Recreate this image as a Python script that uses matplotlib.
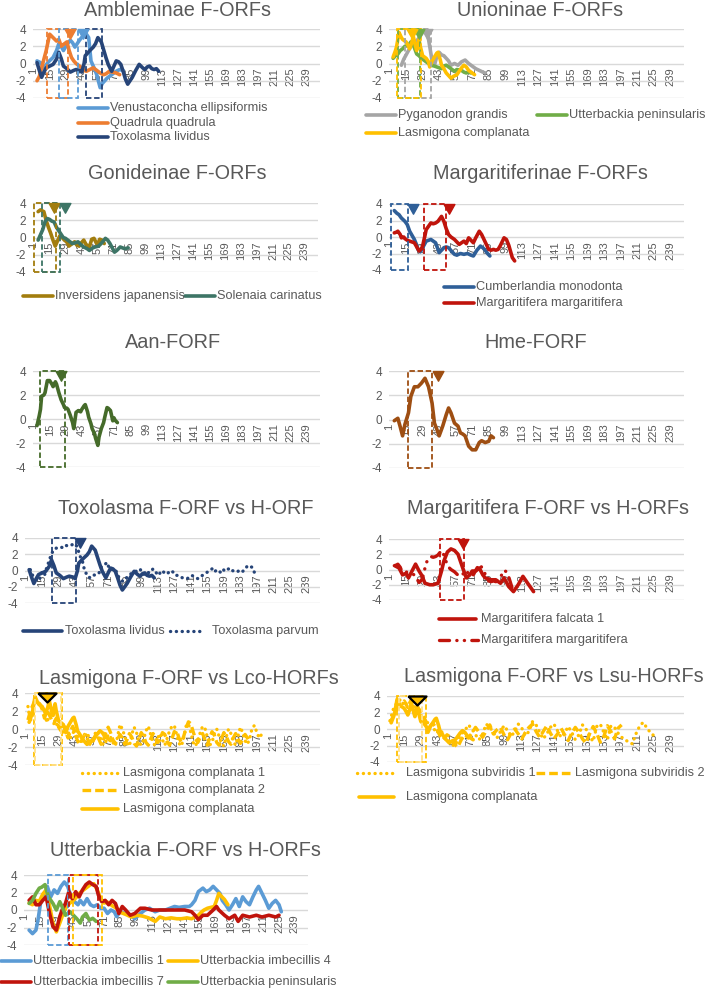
import matplotlib
matplotlib.use("Agg")
import matplotlib.pyplot as plt
from matplotlib.lines import Line2D
from matplotlib.patches import Rectangle

plt.rcParams["font.family"] = ["Liberation Sans", "DejaVu Sans"]
plt.rcParams["axes.unicode_minus"] = False

W, H = 708, 989
TXT = "#595959"
GRID = "#D9D9D9"

# ---------------- data (category position, value) ----------------
# Ambleminae
venu_x = [4, 7, 10, 14, 18, 21, 23, 25, 27, 30, 33, 35, 37, 39, 41, 44, 46, 49, 51, 54,
          56, 59, 61, 63, 65, 67, 70, 73, 76, 79]
venu_y = [0.3, 0.1, -0.5, 0.2, 0.7, 1.5, 2.3, 2.0, 1.5, 2.2, 2.7, 2.4, 1.9, 2.3, 2.7, 3.2, 3.6, 3.0, 0.3, -0.6,
          -1.3, -2.8, -2.3, -2.0, -1.7, -1.5, -1.2, -0.9, -0.7, -0.8]
quad_x = [4, 6, 8, 10, 12, 15, 18, 21, 23, 25, 27, 30, 32, 34, 36, 38, 41, 43, 45, 47,
          50, 53, 56, 59, 62, 64, 67, 70, 73, 76]
quad_y = [-2.0, -1.5, -0.5, 0.5, 1.5, 3.4, 3.0, 2.6, 2.8, 2.0, 2.2, 2.5, 1.5, 0.7, 0.3, 0.0, -0.3, -0.5, -0.8, -0.9,
          -0.7, -0.5, -0.8, -1.1, -1.3, -1.2, -0.9, -1.0, -1.1, -1.3]
tliv_x = [4, 6, 8, 10, 12, 15, 18, 21, 23, 25, 27, 30, 33, 36, 38, 41, 43, 45, 46, 48,
          50, 53, 55, 57, 60, 62, 64, 66, 69, 71, 73, 75, 77, 79, 81, 83, 85, 87, 90, 93,
          96, 98, 100, 102, 104, 106, 108, 110]
tliv_y = [0.1, -0.8, -1.6, -1.0, -0.5, -0.3, -0.1, 0.5, 1.3, 0.6, -0.3, -0.6, -1.0, -0.8, -0.7, -0.8, -1.0, 0.0, 0.9, 1.2,
          1.5, 1.9, 2.3, 3.0, 2.5, 1.6, 0.7, -0.1, -0.9, -0.3, 0.3, 0.2, -0.1, -0.9, -1.8, -2.4, -2.0, -1.6, -0.8, -0.1,
          -0.5, -0.7, -0.4, -0.3, -0.6, -0.7, -0.6, -0.9]

# Unioninae
pyg_x = [11, 13, 15, 17, 19, 21, 23, 25, 27, 29, 31, 33, 35, 37, 39, 41, 43, 45, 47, 49,
         51, 53, 56, 59, 62, 65, 68, 71, 74, 77, 80, 82]
pyg_y = [-0.2, 0.5, 1.0, 1.5, 2.0, 2.2, 2.5, 2.8, 3.2, 3.6, 3.9, 3.6, 2.0, 0.3, -0.2, 0.8, 1.3, 1.0, 0.9, 0.6,
         0.3, -0.2, 0.0, -0.2, 0.2, 0.4, 0.0, -0.3, -0.6, -0.8, -1.0, -1.1]
upen_x = [4, 6, 8, 10, 12, 14, 17, 19, 21, 24, 26, 28, 30, 32, 34, 36, 39, 41, 43, 45,
          47, 49, 51, 53, 56, 58, 60, 62, 64, 66, 68, 70]
upen_y = [0.6, 0.9, 1.1, 1.5, 1.7, 2.0, 2.1, 2.5, 2.2, 1.1, 0.9, 0.6, 0.4, 0.2, 0.0, -0.2, -0.3, -0.4, -0.5, -0.6,
          -0.3, -0.2, -0.4, -0.6, -0.9, -0.7, -0.75, -0.8, -1.0, -1.1, -1.0, -1.1]
lcom_x = [4, 6, 7, 9, 11, 12, 14, 15, 17, 18, 20, 21, 23, 24, 26, 27, 29, 31, 32, 34,
          35, 37, 39, 41, 42, 44, 45, 47, 49, 51, 53, 55, 58, 60, 62, 64, 66, 68, 70, 73]
lcom_y = [0.75, 1.5, 2.0, 3.6, 3.0, 2.8, 2.6, 2.5, 2.0, 1.7, 2.5, 3.2, 2.0, 1.5, 2.8, 2.0, 0.9, 0.7, 0.6, 0.2,
          -0.4, 0.3, 0.75, 1.2, 1.3, 0.4, -0.2, -0.6, -1.1, -1.4, -1.7, -1.5, -1.3, -0.9, -0.5, -0.2, -0.4, -0.8, -1.0, -1.3]

# Gonideinae
ijap_x = [5, 7, 10, 12, 14, 16, 18, 20, 22, 24, 26, 28, 30, 32, 35, 37, 39, 41, 43, 45,
          47, 50, 52, 54, 57, 59, 61, 63]
ijap_y = [3.0, 3.2, 3.0, 2.0, 1.2, 0.5, -0.3, -1.0, -0.4, 0.2, 0.0, -0.3, -0.5, -1.0, -0.7, -0.5, -0.9, -1.0, -0.6, -0.3,
          -0.8, -1.1, -0.2, -0.1, -0.9, -0.2, -0.3, -0.7]
scar_x = [5, 7, 9, 11, 13, 15, 17, 19, 21, 23, 25, 27, 29, 31, 33, 35, 38, 40, 43, 45,
          48, 50, 53, 55, 58, 61, 64, 66, 68, 70, 72, 74, 77, 79, 81, 84]
scar_y = [-0.3, 0.3, 0.9, 1.8, 2.2, 2.1, 1.9, 1.8, 1.2, 0.8, 0.4, 0.0, -0.1, -0.3, -0.5, -0.7, -0.6, -0.5, -0.9, -1.1,
          -1.3, -1.5, -1.2, -1.1, -1.0, -0.6, -0.1, -0.3, -0.7, -1.2, -1.7, -1.5, -1.1, -1.2, -1.3, -1.2]

# Margaritiferinae
cmon_x = [5, 7, 9, 11, 14, 16, 18, 20, 22, 24, 25, 27, 29, 32, 34, 36, 38, 40, 42, 43,
          45, 47, 49, 51, 54, 56, 58, 61, 64, 67, 70, 72, 75, 78, 80, 82, 84, 86]
cmon_y = [3.2, 2.9, 2.7, 2.3, 1.9, 1.5, 0.7, 0.2, -0.3, -1.0, -1.5, -1.8, -1.3, -0.5, -0.4, -0.3, -0.5, -0.7, -1.5, -1.9,
          -1.6, -1.3, -1.2, -1.3, -1.8, -2.1, -2.2, -2.0, -2.1, -2.0, -2.2, -2.3, -1.6, -1.1, -1.3, -1.6, -2.0, -2.3]
mmar_x = [5, 7, 8, 10, 11, 13, 14, 16, 18, 20, 22, 24, 26, 28, 29, 31, 32, 34, 36, 38,
          40, 42, 43, 45, 46, 47, 49, 51, 53, 56, 58, 60, 62, 64, 66, 68, 70, 72, 74, 77,
          79, 81, 83, 85, 87, 89, 91, 93, 95, 98, 100, 102, 103, 105, 107]
mmar_y = [0.5, 0.6, 0.7, 0.3, -0.1, 0.0, -0.2, -0.4, -0.5, -0.6, -0.7, -1.2, -1.7, -1.4, -1.1, 0.2, 0.9, 1.3, 1.7, 1.6,
          1.7, 1.9, 2.1, 2.5, 2.2, 1.9, 1.0, 0.3, 0.0, -0.3, -0.6, -0.9, -0.7, -0.5, -0.8, -0.1, -0.4, -0.7, -0.1, 0.7,
          0.3, -0.3, -0.9, -1.5, -1.6, -1.5, -1.6, -1.5, -1.0, -0.1, -0.3, -1.0, -1.5, -2.5, -2.9]

# Aan-FORF / Hme-FORF
aan_x = [4, 6, 7, 8, 10, 11, 13, 15, 17, 18, 20, 21, 23, 25, 27, 28, 30, 31, 33, 35,
         36, 38, 40, 42, 43, 45, 46, 48, 49, 51, 52, 54, 55, 57, 58, 60, 62, 63, 65, 66,
         68, 70, 71, 72, 74]
aan_y = [-0.55, 0.3, 0.8, 1.9, 2.0, 2.2, 3.2, 3.2, 2.9, 2.7, 3.1, 2.9, 2.2, 1.6, 1.2, 0.95, 0.9, 0.8, 0.3, -0.3,
         -0.8, 0.55, 0.7, 0.6, 0.8, 1.1, 1.2, 0.6, 0.15, -0.4, -0.8, -1.2, -1.6, -2.2, -1.5, -0.8, -0.3, 0.15, 0.95, 0.9,
         0.7, -0.15, 0.1, -0.1, -0.3]
hme_x = [5, 8, 10, 12, 14, 17, 19, 22, 25, 28, 31, 34, 37, 39, 41, 43, 46, 49, 51, 53,
         56, 59, 61, 63, 65, 68, 71, 74, 77, 79, 82, 85, 87, 89]
hme_y = [-0.1, 0.1, -0.6, -1.35, -0.4, 0.55, 1.9, 2.7, 2.7, 3.0, 3.4, 2.7, 1.35, -0.3, -0.8, -1.35, -0.55, 0.4, 0.95, 0.55,
         -0.3, -0.55, -1.1, -1.2, -1.35, -2.2, -2.5, -2.5, -1.9, -1.75, -1.9, -1.8, -1.35, -1.5]

# Toxolasma parvum (H-ORF)
tpar_x = [5, 7, 9, 12, 15, 17, 19, 21, 23, 26, 28, 30, 33, 35, 37, 39, 41, 43, 45, 47,
          49, 51, 54, 56, 58, 61, 63, 65, 68, 70, 72, 75, 77, 79, 81, 83, 85, 87, 89, 91,
          93, 96, 98, 100, 102, 104, 106, 109, 111, 113, 115, 117, 119, 121, 124, 126, 128, 130, 132, 134,
          136, 138, 140, 142, 145, 147, 149, 151, 153, 155, 157, 159, 161, 163, 166, 168, 170, 172, 174, 176,
          178, 180, 182, 184, 187, 189, 191, 193, 196]
tpar_y = [0.1, -0.6, -1.0, -1.3, -0.2, -0.6, 0.4, 1.2, 2.1, 2.7, 2.8, 2.9, 2.8, 3.1, 3.0, 3.1, 3.2, 3.3, 2.8, 1.8,
          1.25, 0.0, -0.8, -0.9, -0.6, -0.5, -0.4, 0.4, 0.7, 1.0, 0.2, 0.1, 0.2, -0.6, -1.0, -1.3, -1.25, -0.8, -0.6, -0.3,
          -0.2, 0.0, 0.2, -0.4, -0.5, -0.2, -0.3, 0.2, -0.1, -0.6, -0.3, 0.0, -0.4, -0.4, 0.0, -0.2, -0.6, -0.6, -0.8, -0.9,
          -1.0, -1.0, -0.8, -0.6, -0.9, -1.0, -0.7, -0.6, -0.4, -0.2, 0.0, 0.2, -0.2, 0.1, -0.2, 0.2, -0.1, 0.1, 0.3, 0.0,
          -0.1, -0.2, 0.0, -0.2, 0.1, 0.6, 0.5, 0.4, -0.6]

# Margaritifera falcata 1 (H-ORF)
mfal_x = [6, 9, 12, 15, 17, 20, 23, 26, 28, 31, 35, 38, 42, 45, 47, 50, 53, 56, 59, 61,
          63, 66, 69, 71, 74, 77, 80, 82, 87, 91, 95, 98, 102, 106, 110, 114, 118, 123]
mfal_y = [0.45, 0.2, -0.7, -0.5, -1.1, -0.2, 0.7, -0.2, -0.7, -1.8, -2.0, -2.0, -1.8, -0.2, 1.1, 2.3, 2.7, 2.5, 2.0, 1.1,
          0.2, -1.1, -0.7, -0.2, -0.2, 0.2, -0.7, -1.1, -1.35, -1.35, -1.8, -1.1, -2.25, -2.9, -2.0, -0.9, -1.8, -2.9]

# Lasmigona H-ORFs (sampled every 2 / 3 residues from position 3)
lco1_y = [2.5, 0.8, 2.2, 2.9, 3.0, 2.6, 2.4, 2.0, 0.7, 1.5,
          2.2, 1.2, 0.4, 1.0, 0.2, -0.5, 0.0, -0.3, -1.0, -0.5,
          0.0, -0.8, -1.2, -1.6, -1.0, -0.4, -1.0, -1.5, -0.8, -0.2,
          -0.6, -1.2, -1.8, -1.4, -0.6, -0.9, -1.5, -1.9, -0.8, 0.5,
          0.0, -0.8, -1.6, -1.9, -0.6, 0.2, -0.4, -1.4, -1.8, -1.2,
          -0.2, 0.3, -0.6, -1.5, -1.9, -1.0, -0.5, -1.2, -1.8, -1.0,
          -0.2, 0.3, 0.4, -0.6, -1.6, -1.9, -1.0, 0.3, 0.6, -0.4,
          -1.5, -1.9, -1.2, -0.4, 0.3, 0.1, -0.9, -1.8, -1.5, -0.5,
          0.0, -0.8, -1.6, -1.9, -0.9, 0.0, -0.5, -1.4, -1.8, -0.8,
          0.2, -0.4, -1.3, -1.7, -1.0, 0.1, 0.4, -0.4, -1.0, -0.6]
lco2_y = [1.0, 2.0, 2.6, 3.2, 3.0, 2.8, 2.2, 1.2, 2.0, 1.6,
          1.0, 0.6, 1.2, 0.2, -0.2, 0.5, -0.3, -1.0, -0.2, 0.3,
          -0.6, -1.3, -1.7, -1.2, -0.6, -0.9, -1.6, -1.8, -1.0, -0.5,
          -1.1, -1.7, -1.2, -0.4, 0.2, -0.4, -1.2, -1.6, -1.2, -0.6,
          -1.0, -1.7, -1.2, -0.5, -0.9, -1.6, -1.9, -1.2, -0.4, -0.8,
          -1.5, -1.8, -1.1, -0.5, -0.9, -1.5, -1.2, -0.4, -0.6, -1.4,
          -1.8, -1.1, -0.3, -0.2, -1.0, -1.5, -0.8, 0.1, 0.8, 0.6,
          -0.3, -1.1, -1.5, -0.9, -0.5, -1.2, -1.8, -1.0, -0.3, -0.7,
          -1.5, -1.8, -1.1, -0.4, -0.8, -1.4, -1.7, -1.0, -0.5, -1.1,
          -1.6, -1.2, -0.6, -1.0, -1.5]
lsu1_y = [1.0, 2.5, 3.2, 3.6, 2.8, 3.4, 3.0, 2.6, 2.2, 1.5,
          0.6, 0.9, 0.3, -0.5, -0.1, -0.6, -1.2, -1.6, -2.1, -1.4,
          -0.6, -0.2, 0.5, 0.0, -0.7, -1.3, -0.6, 0.6, 0.2, -0.4,
          -1.1, -0.3, 0.4, -0.2, -0.9, -0.3, 0.6, 0.1, -0.8, -0.3,
          0.9, 0.5, -0.4, -1.2, -0.6, 0.2, 0.6, -0.2, -1.0, -0.5,
          0.3, -0.4, -1.3, -0.7, 0.5, 0.0, -0.9, -1.5, 0.3, 0.6,
          -0.4, -1.3, 0.4, 0.2, -0.5, -1.0, -1.3, -1.6, -1.8, -0.6,
          0.3, 0.8, 0.2, -0.4, -0.8]
lsu2_y = [0.8, 1.6, 2.4, 3.0, 3.4, 2.6, 3.6, 3.2, 2.5, 1.9,
          1.0, 0.2, 0.7, 0.1, -0.8, -1.3, -0.7, -1.0, -1.8, -2.2,
          -1.3, -0.7, -1.1, -0.5, 0.2, -0.4, -1.0, -0.2, 0.5, -0.6,
          -0.1, 0.2, -0.7, -1.3, -0.5, 0.0, -0.6, -1.2, -0.4, 0.2,
          0.6, -0.3, -1.0, -0.3, 0.4, -0.5, -1.2, -0.6, 0.1, -0.7,
          -1.4, -0.5, 0.2, -0.4, -1.2, -1.7, -0.6, 0.3, -0.5, -1.6,
          -0.9, 0.4, -0.3, -1.2, 0.1, 0.5]
lco1_x = list(range(3, 3 + 2 * len(lco1_y), 2))
lco2_x = list(range(3, 3 + 2 * len(lco2_y), 2))
lsu1_x = list(range(3, 3 + 3 * len(lsu1_y), 3))
lsu2_x = list(range(3, 3 + 3 * len(lsu2_y), 3))

# Utterbackia
uim1_x = [5, 8, 11, 13, 15, 18, 21, 24, 27, 30, 33, 36, 39, 42, 45, 48, 50, 53, 56, 59,
          62, 65, 68, 71, 74, 77, 80, 82, 85, 90, 94, 98, 103, 107, 111, 116, 120, 125, 129, 133,
          137, 142, 146, 148, 151, 154, 158, 161, 164, 167, 170, 173, 175, 178, 181, 184, 187, 190, 193, 196,
          199, 202, 205, 207, 210, 213, 216, 219, 222, 225, 227]
uim1_y = [-2.3, -2.7, -2.3, -1.0, 0.75, 1.5, 2.7, 1.5, 2.3, 1.9, 2.7, 3.2, 2.7, 1.5, 0.95, 0.6, 1.1, 0.6, 1.3, 0.6,
          0.4, 0.6, 0.2, 0.2, -0.4, 0.0, -0.2, -0.75, -0.2, -0.4, -0.6, -1.0, -0.4, 0.0, 0.2, -0.2, 0.0, 0.0, 0.2, 0.4,
          0.3, 0.4, 0.4, 0.6, 1.1, 2.1, 2.5, 2.1, 2.3, 2.7, 2.3, 1.9, 1.1, 0.6, 0.0, 0.6, 1.3, 0.4, 1.5, 0.95,
          0.6, 1.5, 2.3, 2.7, 1.9, 1.1, 0.2, 0.75, 1.1, 0.6, -0.2]
uim4_x = [5, 8, 11, 14, 17, 20, 23, 26, 29, 32, 35, 38, 41, 44, 47, 50, 53, 56, 59, 62,
          65, 68, 71, 74, 78, 82, 86, 90, 95, 100, 105, 110, 113, 116, 120, 125, 130, 135, 139, 144,
          148, 151, 154, 157, 159, 162, 165, 168, 170, 172, 174, 177, 180]
uim4_y = [0.8, 0.6, 1.1, 1.0, 1.8, 2.3, 0.5, -1.5, -2.5, -1.5, -0.4, 0.4, 0.8, 1.1, 1.5, 2.0, 2.3, 2.6, 2.9, 3.0,
          2.3, 1.3, 0.8, 0.9, 0.5, 0.2, -0.3, -0.5, -0.8, -0.6, -0.7, -0.9, -1.1, -1.3, -0.8, -1.0, -0.9, -1.0, -1.0, -0.9,
          -1.0, -0.8, -0.6, -0.2, 0.0, 0.2, 0.3, 0.4, 1.1, 1.9, 1.6, 1.2, 0.6]
uim7_x = [5, 8, 11, 14, 17, 20, 23, 26, 29, 32, 34, 37, 40, 43, 46, 49, 52, 55, 58, 61,
          64, 66, 69, 72, 75, 78, 81, 84, 87, 90, 94, 98, 103, 107, 113, 119, 125, 130, 136, 142,
          148, 151, 154, 158, 162, 167, 170, 172, 177, 181, 186, 189, 193, 199, 205, 210, 216, 222, 225]
uim7_y = [1.1, 1.5, 0.6, 0.6, 1.1, 1.5, -0.4, -1.9, -2.3, -0.75, 0.0, 0.75, 2.1, 1.3, 2.1, 1.5, 2.3, 2.9, 3.2, 2.9,
          2.7, 1.7, 0.95, 1.1, 0.6, 1.1, 0.75, -0.4, 0.4, 0.0, -0.6, -0.4, 0.2, 0.2, 0.0, 0.0, 0.0, 0.0, 0.0, 0.0,
          -0.2, -0.6, -1.1, -0.6, -0.6, 0.0, 0.4, 0.0, -0.6, -1.0, -0.6, -1.3, -0.6, -0.8, -0.6, -0.8, -0.6, -0.8, -0.6]
upn2_x = [5, 8, 11, 14, 16, 19, 22, 26, 29, 32, 34, 37, 41, 44, 47, 50, 52, 55, 58, 61, 64]
upn2_y = [0.75, 1.1, 1.9, 2.5, 2.6, 2.9, 1.5, 0.75, 0.0, 0.95, 0.4, -0.6, -0.2, -0.6, -1.0, -1.5, -0.8, -0.4, -1.15, -0.95, -1.3]

# ---------------- styles ----------------
C_LBLUE, C_ORANGE, C_NAVY = "#5B9BD5", "#ED7D31", "#264478"
C_GRAY, C_GOLD, C_GREEN = "#A5A5A5", "#FFC000", "#70AD47"
C_OLIVE, C_TEAL = "#A27D0E", "#3D7566"
C_CBLUE, C_RED = "#2F5F98", "#C0140C"
C_AAN, C_HME = "#456B2A", "#9E4E12"

SOLID = dict(lw=2.6, solid_capstyle="round", solid_joinstyle="round")
DOT = dict(lw=2.4, ls=(0, (0.05, 1.7)), dash_capstyle="round")
DASH = dict(lw=2.4, ls=(0, (2.6, 1.2)), dash_capstyle="butt")
DASHDOT = dict(lw=2.4, ls=(0, (3.0, 2.2, 0.05, 2.2, 0.05, 2.2)), dash_capstyle="round")

TRI = [(-0.5, 0), (0.5, 0), (0, -0.9), (-0.5, 0)]
TRI_WIDE = [(-0.5, 0), (0.5, 0), (0, -0.5), (-0.5, 0)]


def panel(fig, left, right, top, bottom, title, tx, ty):
    ax = fig.add_axes([left / W, 1 - bottom / H, (right - left) / W, (bottom - top) / H])
    ax.set_xlim(0.5, 250.5)
    ax.set_ylim(-4, 4)
    ax.set_yticks([-4, -2, 0, 2, 4])
    ax.set_xticks(range(1, 250, 14))
    ax.grid(axis="y", color=GRID, lw=1)
    ax.set_axisbelow(True)
    for s in ["top", "right", "left"]:
        ax.spines[s].set_visible(False)
    ax.spines["bottom"].set_position(("data", 0))
    ax.spines["bottom"].set_color("none")
    ax.tick_params(axis="x", length=0, labelrotation=90, labelsize=8, labelcolor=TXT, pad=3)
    ax.tick_params(axis="y", length=0, labelsize=8.5, labelcolor=TXT, pad=5)
    ax.patch.set_alpha(0)
    fig.text(tx / W, 1 - ty / H, title, ha="center", va="center", fontsize=14.3, color=TXT)
    return ax


def box(ax, a, b, color):
    ax.add_patch(Rectangle((a, -4), b - a, 8, fill=False, ec=color, lw=1.3,
                           ls=(0, (3, 1.5)), clip_on=False, zorder=4))


def tri(ax, x, color, wide=False):
    if wide:
        ax.plot([x], [4], marker=TRI_WIDE, ms=13, mfc=color, mec="black", mew=1.6,
                ls="none", clip_on=False, zorder=6)
    else:
        ax.plot([x], [4], marker=TRI, ms=14, mfc=color, mec=color, ls="none",
                clip_on=False, zorder=6)


def key(fig, color, st, x0, x1, xt, y, label):
    fig.add_artist(Line2D([x0 / W, x1 / W], [1 - y / H] * 2, transform=fig.transFigure,
                          color=color, **st))
    fig.text(xt / W, 1 - y / H, label, ha="left", va="center", fontsize=9.2, color=TXT)


fig = plt.figure(figsize=(W / 100, H / 100), dpi=100)

# 1 Ambleminae
ax = panel(fig, 33, 320, 29, 98, "Ambleminae F-ORFs", 177, 10)
ax.plot(venu_x, venu_y, color=C_LBLUE, **SOLID)
ax.plot(quad_x, quad_y, color=C_ORANGE, **SOLID)
ax.plot(tliv_x, tliv_y, color=C_NAVY, **SOLID)
box(ax, 13, 31, C_ORANGE)
box(ax, 23, 40, C_LBLUE)
box(ax, 47, 61, C_NAVY)
tri(ax, 33, C_ORANGE)
tri(ax, 44, C_LBLUE)
key(fig, C_LBLUE, SOLID, 78, 108, 110, 108, "Venustaconcha ellipsiformis")
key(fig, C_ORANGE, SOLID, 78, 108, 110, 123, "Quadrula quadrula")
key(fig, C_NAVY, SOLID, 78, 108, 110, 137, "Toxolasma lividus")

# 2 Unioninae
ax = panel(fig, 389, 684, 29, 98, "Unioninae F-ORFs", 540, 10)
ax.plot(pyg_x, pyg_y, color=C_GRAY, **SOLID)
ax.plot(upen_x, upen_y, color=C_GREEN, **SOLID)
ax.plot(lcom_x, lcom_y, color=C_GOLD, **SOLID)
box(ax, 14, 36, C_GRAY)
box(ax, 8, 27, C_GREEN)
box(ax, 7, 28, C_GOLD)
tri(ax, 33, C_GRAY)
tri(ax, 26, C_GREEN)
tri(ax, 20, C_GOLD)
key(fig, C_GRAY, SOLID, 366, 396, 398, 115, "Pyganodon grandis")
key(fig, C_GREEN, SOLID, 537, 567, 569, 115, "Utterbackia peninsularis")
key(fig, C_GOLD, SOLID, 366, 396, 398, 133, "Lasmigona complanata")

# 3 Gonideinae
ax = panel(fig, 33, 318, 203, 272, "Gonideinae F-ORFs", 177, 173)
ax.plot(ijap_x, ijap_y, color=C_OLIVE, **SOLID)
ax.plot(scar_x, scar_y, color=C_TEAL, **SOLID)
box(ax, 1, 21, C_OLIVE)
box(ax, 8, 24, C_TEAL)
tri(ax, 19, C_OLIVE)
tri(ax, 29, C_TEAL)
key(fig, C_OLIVE, SOLID, 23, 53, 55, 296, "Inversidens japanensis")
key(fig, C_TEAL, SOLID, 185, 215, 217, 296, "Solenaia carinatus")

# 4 Margaritiferinae
ax = panel(fig, 389, 684, 204, 270, "Margaritiferinae F-ORFs", 540, 173)
ax.plot(cmon_x, cmon_y, color=C_CBLUE, **SOLID)
ax.plot(mmar_x, mmar_y, color=C_RED, **SOLID)
box(ax, 2, 17, C_CBLUE)
box(ax, 30, 49, C_RED)
tri(ax, 21, C_CBLUE)
tri(ax, 51, C_RED)
key(fig, C_CBLUE, SOLID, 444, 474, 476, 287, "Cumberlandia monodonta")
key(fig, C_RED, SOLID, 444, 474, 476, 303, "Margaritifera margaritifera")

# 5 Aan-FORF
ax = panel(fig, 33, 320, 371, 467, "Aan-FORF", 173, 343)
ax.plot(aan_x, aan_y, color=C_AAN, **SOLID)
box(ax, 7, 28, C_AAN)
tri(ax, 25, C_AAN)

# 6 Hme-FORF
ax = panel(fig, 389, 684, 371, 468, "Hme-FORF", 536, 343)
ax.plot(hme_x, hme_y, color=C_HME, **SOLID)
box(ax, 17, 37, C_HME)
tri(ax, 42, C_HME)

# 7 Toxolasma
ax = panel(fig, 25, 320, 538, 603, "Toxolasma F-ORF vs H-ORF", 186, 508)
ax.plot(tliv_x, tliv_y, color=C_NAVY, **SOLID)
ax.plot(tpar_x, tpar_y, color=C_NAVY, **DOT)
box(ax, 23, 44, C_NAVY)
tri(ax, 47, C_NAVY)
key(fig, C_NAVY, SOLID, 23, 62, 65, 631, "Toxolasma lividus")
key(fig, C_NAVY, DOT, 170, 205, 212, 631, "Toxolasma parvum")

# 8 Margaritifera
ax = panel(fig, 389, 684, 539, 600, "Margaritifera F-ORF vs H-ORFs", 548, 509)
ax.plot(mfal_x, mfal_y, color=C_RED, **SOLID)
ax.plot(mmar_x, mmar_y, color=C_RED, **DASHDOT)
box(ax, 44, 64, C_RED)
tri(ax, 63, C_RED)
key(fig, C_RED, SOLID, 439, 476, 481, 619, "Margaritifera falcata 1")
key(fig, C_RED, DASHDOT, 439, 478, 481, 640, "Margaritifera margaritifera")

# 9 Lasmigona Lco
ax = panel(fig, 25, 320, 693, 765, "Lasmigona F-ORF vs Lco-HORFs", 189, 678)
ax.plot(lco1_x, lco1_y, color=C_GOLD, **DOT)
ax.plot(lco2_x, lco2_y, color=C_GOLD, **DASH)
ax.plot(lcom_x, lcom_y, color=C_GOLD, **SOLID)
box(ax, 8, 32, C_GOLD)
box(ax, 9, 31, "#FFE08A")
tri(ax, 19, C_GOLD, wide=True)
key(fig, C_GOLD, DOT, 82, 118, 123, 773, "Lasmigona complanata 1")
key(fig, C_GOLD, DASH, 82, 118, 123, 790, "Lasmigona complanata 2")
key(fig, C_GOLD, SOLID, 82, 118, 123, 809, "Lasmigona complanata")

# 10 Lasmigona Lsu
ax = panel(fig, 387, 684, 696, 762, "Lasmigona F-ORF vs Lsu-HORFs", 554, 676)
ax.plot(lsu1_x, lsu1_y, color=C_GOLD, **DOT)
ax.plot(lsu2_x, lsu2_y, color=C_GOLD, **DASH)
ax.plot(lcom_x, lcom_y, color=C_GOLD, **SOLID)
box(ax, 9, 33, C_GOLD)
box(ax, 11, 30, "#FFE08A")
tri(ax, 26, C_GOLD, wide=True)
key(fig, C_GOLD, DOT, 357, 394, 406, 773, "Lasmigona subviridis 1")
key(fig, C_GOLD, DASH, 536, 572, 575, 773, "Lasmigona subviridis 2")
key(fig, C_GOLD, SOLID, 359, 394, 406, 797, "Lasmigona complanata")

# 11 Utterbackia
ax = panel(fig, 24, 308, 875, 945, "Utterbackia F-ORF vs H-ORFs", 185, 850)
ax.plot(uim1_x, uim1_y, color=C_LBLUE, **SOLID)
ax.plot(uim4_x, uim4_y, color=C_GOLD, **SOLID)
ax.plot(uim7_x, uim7_y, color=C_RED, **SOLID)
ax.plot(upn2_x, upn2_y, color=C_GREEN, **SOLID)
box(ax, 22, 39, C_LBLUE)
box(ax, 40, 66, C_RED)
box(ax, 44, 69, C_GOLD)
key(fig, C_LBLUE, SOLID, 1, 31, 33, 961, "Utterbackia imbecillis 1")
key(fig, C_GOLD, SOLID, 168, 198, 200, 961, "Utterbackia imbecillis 4")
key(fig, C_RED, SOLID, 1, 31, 33, 982, "Utterbackia imbecillis 7")
key(fig, C_GREEN, SOLID, 168, 198, 200, 982, "Utterbackia peninsularis")

fig.savefig("out.png", dpi=100, facecolor="white")
